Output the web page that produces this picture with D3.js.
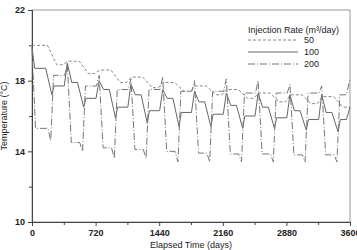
<!DOCTYPE html>
<html>
<head>
<meta charset="utf-8">
<script src="https://d3js.org/d3.v7.min.js"></script>
<style>
  body { margin: 0; background: #fff; }
  text { font-family: "Liberation Sans", Arial, sans-serif; fill: #222; }
</style>
</head>
<body>
<div id="chart"></div>
<script>
// ---- data ----
var days50 = [0, 175, 280, 350, 405, 535, 640, 710, 765, 895, 1000, 1070, 1125, 1255, 1360, 1430,
  1485, 1615, 1720, 1790, 1845, 1975, 2080, 2150, 2205, 2335, 2440, 2510, 2565, 2695, 2800, 2870,
  2925, 3055, 3160, 3230, 3285, 3415, 3520, 3600];
var temp50 = [20.0, 20.0, 18.9, 18.9, 19.1, 19.1, 18.4, 18.4, 18.6, 18.6, 17.9, 17.9, 18.2, 18.2, 17.6, 17.6,
  17.9, 17.9, 17.4, 17.4, 17.7, 17.7, 17.2, 17.2, 17.5, 17.5, 17.0, 17.0, 17.3, 17.3, 16.8, 16.8,
  17.2, 17.2, 16.7, 16.7, 17.1, 17.1, 16.5, 16.5];

var days100 = [0, 30, 155, 225, 250, 365,
  400, 450, 515, 585, 610, 725,
  760, 810, 875, 945, 970, 1085,
  1120, 1170, 1235, 1305, 1330, 1445,
  1480, 1530, 1595, 1665, 1690, 1805,
  1840, 1890, 1955, 2025, 2050, 2165,
  2200, 2250, 2315, 2385, 2410, 2525,
  2560, 2610, 2675, 2745, 2770, 2885,
  2920, 2970, 3035, 3105, 3130, 3245,
  3280, 3330, 3395, 3465, 3490, 3560, 3600];
var temp100 = [19.9, 18.7, 18.7, 17.2, 17.7, 17.7,
  19.0, 17.9, 17.9, 16.5, 17.0, 17.0,
  18.0, 17.5, 17.5, 15.9, 16.5, 16.5,
  17.8, 17.2, 17.2, 15.6, 16.3, 16.3,
  17.5, 17.0, 17.0, 15.4, 16.2, 16.2,
  17.4, 16.8, 16.8, 15.4, 16.1, 16.1,
  17.3, 16.6, 16.6, 15.3, 16.0, 16.0,
  17.3, 16.5, 16.5, 15.3, 15.9, 15.9,
  17.2, 16.3, 16.3, 15.2, 15.8, 15.8,
  17.2, 16.2, 16.2, 15.1, 15.8, 15.8, 16.5];

var days200 = [0, 40, 180, 212, 245, 370,
  400, 445, 540, 572, 605, 730,
  760, 805, 900, 932, 965, 1090,
  1120, 1165, 1260, 1292, 1325, 1450,
  1480, 1525, 1620, 1652, 1685, 1810,
  1840, 1885, 1980, 2012, 2045, 2170,
  2200, 2245, 2340, 2372, 2405, 2530,
  2560, 2605, 2700, 2732, 2765, 2890,
  2920, 2965, 3060, 3092, 3125, 3250,
  3280, 3325, 3420, 3452, 3485, 3560, 3600];
var temp200 = [19.8, 15.3, 15.3, 14.6, 18.3, 18.3,
  18.9, 14.5, 14.5, 14.0, 17.7, 17.7,
  18.3, 14.2, 14.2, 13.6, 17.5, 17.5,
  18.1, 14.1, 14.1, 13.6, 17.5, 17.5,
  18.2, 14.0, 14.0, 13.4, 17.4, 17.4,
  18.0, 13.9, 13.9, 13.4, 17.4, 17.4,
  18.1, 13.85, 13.85, 13.4, 17.3, 17.3,
  18.0, 13.85, 13.85, 13.4, 17.3, 17.3,
  17.8, 13.8, 13.8, 13.4, 17.3, 17.3,
  17.7, 13.8, 13.8, 13.4, 17.2, 17.2, 18.1];

var xTicks = [0, 720, 1440, 2160, 2880, 3600];
var xMinor = [360, 1080, 1800, 2520, 3240];
var yTicks = [10, 14, 18, 22];
var yMinor = [12, 16, 20];
var rateLabels = ["50", "100", "200"];

// ---- layout ----
var W = 357, H = 250;
var m = {left: 32, right: 7, top: 10, bottom: 28};

var svg = d3.select("#chart").append("svg")
  .attr("width", W).attr("height", H);

var x = d3.scaleLinear().domain([0, 3600]).range([m.left, W - m.right]);
var y = d3.scaleLinear().domain([10, 22]).range([H - m.bottom, m.top]);

// frame
svg.append("rect")
  .attr("x", x(0)).attr("y", y(22))
  .attr("width", x(3600) - x(0)).attr("height", y(10) - y(22))
  .attr("fill", "none").attr("stroke", "#999").attr("stroke-width", 1);

// axes
svg.append("g").attr("transform", "translate(0," + y(10) + ")")
  .call(d3.axisBottom(x).tickValues(xTicks).tickSize(4).tickPadding(4).tickFormat(d3.format("d")));
svg.append("g").attr("transform", "translate(0," + y(10) + ")")
  .call(d3.axisBottom(x).tickValues(xMinor).tickSize(3).tickFormat(""));

svg.append("g").attr("transform", "translate(" + x(0) + ",0)")
  .call(d3.axisLeft(y).tickValues(yTicks).tickSize(4).tickPadding(3));
svg.append("g").attr("transform", "translate(" + x(0) + ",0)")
  .call(d3.axisLeft(y).tickValues(yMinor).tickSize(3).tickFormat(""));

svg.selectAll(".domain").attr("stroke", "#444");
svg.selectAll(".tick line").attr("stroke", "#444");
svg.selectAll(".tick text")
  .style("font-size", "9px").style("font-weight", "bold")
  .attr("fill", "#222");

// axis titles
svg.append("text")
  .attr("x", (x(0) + x(3600)) / 2).attr("y", H - 2)
  .attr("text-anchor", "middle")
  .style("font-size", "9px")
  .text("Elapsed Time (days)");

svg.append("text")
  .attr("transform", "translate(7," + ((y(10) + y(22)) / 2) + ") rotate(-90)")
  .attr("text-anchor", "middle")
  .style("font-size", "9px")
  .text("Temperature (°C)");

// series
var series = [
  {days: days50, temp: temp50, dash: "3,2", color: "#888"},
  {days: days100, temp: temp100, dash: null, color: "#666"},
  {days: days200, temp: temp200, dash: "7,2,1,2", color: "#777"}
];

var line = d3.line()
  .x(function(d) { return x(d[0]); })
  .y(function(d) { return y(d[1]); });

series.forEach(function(s) {
  var pts = s.days.map(function(d, i) { return [d, s.temp[i]]; });
  svg.append("path")
    .datum(pts)
    .attr("d", line)
    .attr("fill", "none")
    .attr("stroke", s.color)
    .attr("stroke-width", 1)
    .attr("stroke-dasharray", s.dash);
});

// legend
var lg = svg.append("g").attr("transform", "translate(248,0)");
lg.append("text").attr("x", 0).attr("y", 33)
  .style("font-size", "9px")
  .text("Injection Rate (m³/day)");

series.forEach(function(s, i) {
  var ly = 40 + i * 12;
  lg.append("line")
    .attr("x1", 0).attr("x2", 50).attr("y1", ly).attr("y2", ly)
    .attr("stroke", s.color).attr("stroke-width", 1)
    .attr("stroke-dasharray", s.dash);
  lg.append("text").attr("x", 56).attr("y", ly + 3)
    .style("font-size", "9px")
    .text(rateLabels[i]);
});
</script>
</body>
</html>
